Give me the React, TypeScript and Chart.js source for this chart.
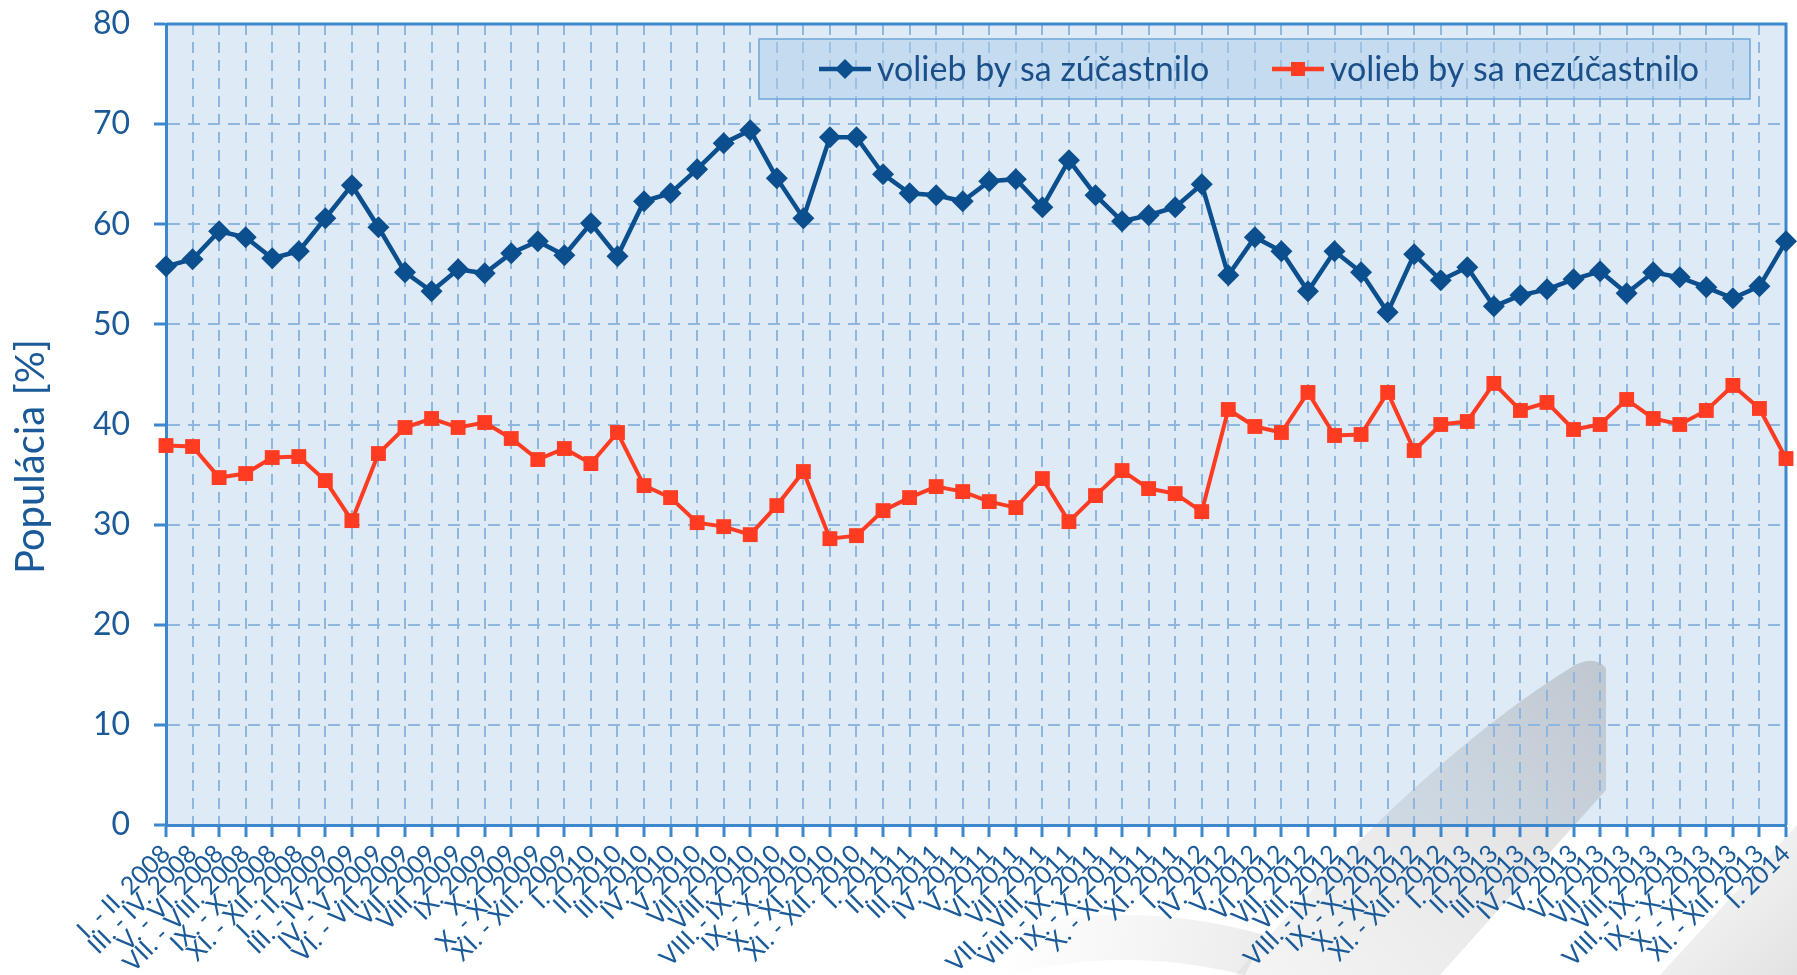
import React, { useEffect, useRef } from "react";
import { Chart, registerables } from "chart.js";

Chart.register(...registerables);

// ---------- data ----------
const categories: string[] = [
  "I. - II. 2008", "III. - IV. 2008", "V. - VI. 2008", "VII. - VIII. 2008", "IX. - X. 2008", "XI. - XII. 2008",
  "I. - II. 2009", "III. - IV. 2009", "IV. - V. 2009", "VI. - VII. 2009", "VII. 2009", "VIII. 2009",
  "IX. 2009", "X. 2009", "X. - XI. 2009", "XI. - XII. 2009",
  "I. 2010", "II. 2010", "III. 2010", "IV. 2010", "V. 2010", "VII. 2010", "VIII. 2010",
  "VIII. - IX. 2010", "IX. - X. 2010", "X. - XI. 2010", "XI. - XII. 2010",
  "I. 2011", "II. 2011", "III. 2011", "IV. 2011", "V. 2011", "VI. 2011", "VII. 2011",
  "VII. - VIII. 2011", "VIII. - IX. 2011", "IX. - X. 2011", "X. - XI. 2011", "XI. 2011",
  "I. 2012", "IV. 2012", "V. 2012", "VI. 2012", "VII. 2012", "VIII. 2012",
  "VIII. - IX. 2012", "IX. - X. 2012", "X. - XI. 2012", "XI. - XII. 2012",
  "I. 2013", "II. 2013", "III. 2013", "IV. 2013", "V. 2013", "VI. 2013", "VII. 2013", "VIII. 2013",
  "VIII. - IX. 2013", "IX. - X. 2013", "X. - XI. 2013", "XI. - XII. 2013",
  "I. 2014",
];

const zucastnilo: number[] = [
  55.8, 56.5, 59.3, 58.7, 56.6, 57.3, 60.6, 63.9, 59.7, 55.2,
  53.3, 55.5, 55.1, 57.1, 58.3, 56.9, 60.1, 56.8, 62.3, 63.1,
  65.5, 68.1, 69.4, 64.6, 60.6, 68.7, 68.7, 65.0, 63.1, 62.9,
  62.3, 64.3, 64.5, 61.7, 66.4, 62.9, 60.3, 60.9, 61.7, 64.0,
  54.9, 58.7, 57.3, 53.3, 57.3, 55.2, 51.2, 57.0, 54.4, 55.7,
  51.8, 52.9, 53.5, 54.5, 55.3, 53.1, 55.2, 54.7, 53.7, 52.6,
  53.8, 58.3,
];

const nezucastnilo: number[] = [
  37.9, 37.8, 34.7, 35.1, 36.7, 36.8, 34.4, 30.4, 37.1, 39.7,
  40.6, 39.7, 40.2, 38.6, 36.5, 37.6, 36.1, 39.2, 33.9, 32.7,
  30.2, 29.8, 29.0, 31.9, 35.3, 28.6, 28.9, 31.4, 32.7, 33.8,
  33.3, 32.3, 31.7, 34.6, 30.3, 32.9, 35.4, 33.6, 33.1, 31.3,
  41.5, 39.8, 39.2, 43.2, 38.9, 39.0, 43.2, 37.4, 40.0, 40.3,
  44.1, 41.4, 42.2, 39.5, 40.0, 42.5, 40.6, 40.0, 41.4, 43.9,
  41.6, 36.6,
];

const seriesNames: string[] = ["volieb by sa zúčastnilo", "volieb by sa nezúčastnilo"];
const yAxisTitle = "Populácia [%]";
const yMin = 0;
const yMax = 80;
const yStep = 10;

// ---------- styles ----------
const BLUE = "#0B4F8E";
const RED = "#FF3B22";
const TEXT = "#1B5A98";
const AXIS = "#3D87CD";
const GRID = "#8FB6DC";
const PLOT_BG = "#DEEAF6";
const FONT = "Lato, 'Open Sans', sans-serif";

const W = 1797;
const H = 975;

function drawWatermark(ctx: CanvasRenderingContext2D) {
  // decorative grey ribbon in the lower right (background artwork)
  ctx.save();
  let g = ctx.createLinearGradient(1250, 975, 1600, 660);
  g.addColorStop(0, "rgba(150,150,150,0.10)");
  g.addColorStop(0.6, "rgba(140,140,140,0.22)");
  g.addColorStop(1, "rgba(120,120,120,0.30)");
  ctx.fillStyle = g;
  ctx.beginPath();
  ctx.moveTo(1235, 975);
  ctx.quadraticCurveTo(1420, 760, 1575, 665);
  ctx.quadraticCurveTo(1595, 655, 1606, 668);
  ctx.lineTo(1606, 790);
  ctx.lineTo(1440, 975);
  ctx.closePath();
  ctx.fill();

  g = ctx.createLinearGradient(1000, 930, 1260, 960);
  g.addColorStop(0, "rgba(160,160,160,0.0)");
  g.addColorStop(1, "rgba(150,150,150,0.18)");
  ctx.fillStyle = g;
  ctx.beginPath();
  ctx.moveTo(990, 935);
  ctx.quadraticCurveTo(1120, 895, 1265, 935);
  ctx.lineTo(1245, 975);
  ctx.quadraticCurveTo(1120, 945, 1010, 975);
  ctx.closePath();
  ctx.fill();

  g = ctx.createLinearGradient(1797, 975, 1690, 860);
  g.addColorStop(0, "rgba(140,140,140,0.25)");
  g.addColorStop(1, "rgba(160,160,160,0.10)");
  ctx.fillStyle = g;
  ctx.beginPath();
  ctx.moveTo(1660, 975);
  ctx.lineTo(1797, 825);
  ctx.lineTo(1797, 975);
  ctx.closePath();
  ctx.fill();
  ctx.restore();
}

const plotPlugin = {
  id: "plotDecor",
  beforeDraw(chart: any) {
    const { ctx, chartArea } = chart;
    const { left, top, right, bottom } = chartArea;
    ctx.save();
    ctx.fillStyle = "#FFFFFF";
    ctx.fillRect(0, 0, chart.width, chart.height);
    ctx.fillStyle = PLOT_BG;
    ctx.fillRect(left, top, right - left, bottom - top);
    ctx.restore();
    drawWatermark(ctx);
  },
  afterDraw(chart: any) {
    // y-axis title, placed a little below the axis centre as in the original
    const { ctx, chartArea } = chart;
    ctx.save();
    ctx.translate(31, (chartArea.top + chartArea.bottom) / 2 + 32);
    ctx.rotate(-Math.PI / 2);
    ctx.font = `40px ${FONT}`;
    ctx.fillStyle = TEXT;
    ctx.textAlign = "center";
    ctx.textBaseline = "middle";
    ctx.fillText(yAxisTitle, 0, 0);
    ctx.restore();
  },
  beforeDatasetsDraw(chart: any) {
    const { ctx, chartArea } = chart;
    const { left, top, right, bottom } = chartArea;
    ctx.save();
    ctx.strokeStyle = AXIS;
    ctx.lineWidth = 3;
    ctx.beginPath();
    ctx.moveTo(left, top);
    ctx.lineTo(right, top);
    ctx.lineTo(right, bottom);
    ctx.stroke();
    ctx.restore();

    // legend box (drawn under the data lines, over the grid)
    const bx = left + 593;
    const by = top + 15;
    const bw = right - bx - 36;
    const bh = 60;
    ctx.save();
    ctx.fillStyle = "rgba(170, 203, 233, 0.5)";
    ctx.fillRect(bx, by, bw, bh);
    ctx.strokeStyle = "#6FA6DA";
    ctx.lineWidth = 1.5;
    ctx.strokeRect(bx, by, bw, bh);
    const cy = by + bh / 2;
    const entries = [
      { x: bx + 60, color: BLUE, style: "diamond", text: seriesNames[0] },
      { x: bx + 513, color: RED, style: "square", text: seriesNames[1] },
    ];
    ctx.font = `34px ${FONT}`;
    ctx.textBaseline = "middle";
    ctx.textAlign = "left";
    for (const e of entries) {
      ctx.strokeStyle = e.color;
      ctx.fillStyle = e.color;
      ctx.lineWidth = 4.5;
      ctx.beginPath();
      ctx.moveTo(e.x, cy);
      ctx.lineTo(e.x + 52, cy);
      ctx.stroke();
      const mx = e.x + 26;
      ctx.beginPath();
      if (e.style === "diamond") {
        const r = 10;
        ctx.moveTo(mx, cy - r);
        ctx.lineTo(mx + r, cy);
        ctx.lineTo(mx, cy + r);
        ctx.lineTo(mx - r, cy);
        ctx.closePath();
      } else {
        const s = 7;
        ctx.rect(mx - s, cy - s, 2 * s, 2 * s);
      }
      ctx.fill();
      ctx.fillStyle = "#1A4F8A";
      ctx.fillText(e.text, e.x + 58, cy + 1);
    }
    ctx.restore();
  },
};

export default function App() {
  const canvasRef = useRef<HTMLCanvasElement | null>(null);

  useEffect(() => {
    document.body.style.margin = "0";
    const canvas = canvasRef.current;
    if (!canvas) return;
    const chart = new Chart(canvas, {
      type: "line",
      data: {
        labels: categories,
        datasets: [
          {
            label: seriesNames[0],
            data: zucastnilo,
            borderColor: BLUE,
            backgroundColor: BLUE,
            borderWidth: 4.5,
            pointStyle: "rectRot",
            pointRadius: 11,
            pointBorderWidth: 0,
            pointBackgroundColor: BLUE,
            tension: 0,
            clip: false as any,
          },
          {
            label: seriesNames[1],
            data: nezucastnilo,
            borderColor: RED,
            backgroundColor: RED,
            borderWidth: 4,
            pointStyle: "rect",
            pointRadius: 10.5,
            pointBorderWidth: 0,
            pointBackgroundColor: RED,
            tension: 0,
            clip: false as any,
          },
        ],
      },
      options: {
        responsive: false,
        animation: false,
        devicePixelRatio: 1,
        layout: { padding: { left: 8, top: 24, right: 8, bottom: 0 } },
        plugins: {
          legend: { display: false },
          tooltip: { enabled: false },
        },
        scales: {
          x: {
            type: "category",
            offset: false,
            grid: {
              color: GRID,
              lineWidth: 2,
              drawTicks: true,
              tickLength: 12,
              tickColor: AXIS,
              tickWidth: 3,
              tickBorderDash: [],
            } as any,
            border: { display: true, color: AXIS, width: 3, dash: [11, 7] } as any,
            ticks: {
              autoSkip: false,
              maxRotation: 45,
              minRotation: 45,
              color: TEXT,
              font: { family: FONT, size: 25 },
              padding: 2,
            },
            afterFit: (scale: any) => {
              scale.height = 150;
              scale.paddingRight = 0;
              scale.paddingLeft = 0;
            },
          },
          y: {
            min: yMin,
            max: yMax,
            grid: {
              color: GRID,
              lineWidth: 2,
              drawTicks: true,
              tickLength: 12,
              tickColor: AXIS,
              tickWidth: 3,
              tickBorderDash: [],
            } as any,
            border: { display: true, color: AXIS, width: 3, dash: [12, 8] } as any,
            ticks: {
              stepSize: yStep,
              color: TEXT,
              font: { family: FONT, size: 32 },
              padding: 24,
            },
            title: { display: false },
            afterFit: (scale: any) => {
              scale.width = 158;
              scale.paddingTop = 0;
              scale.paddingBottom = 0;
            },
          },
        },
      },
      plugins: [plotPlugin],
    });
    return () => chart.destroy();
  }, []);

  return (
    <div style={{ width: W, height: H, position: "relative", background: "#fff" }}>
      <canvas ref={canvasRef} width={W} height={H} style={{ display: "block" }} />
    </div>
  );
}
